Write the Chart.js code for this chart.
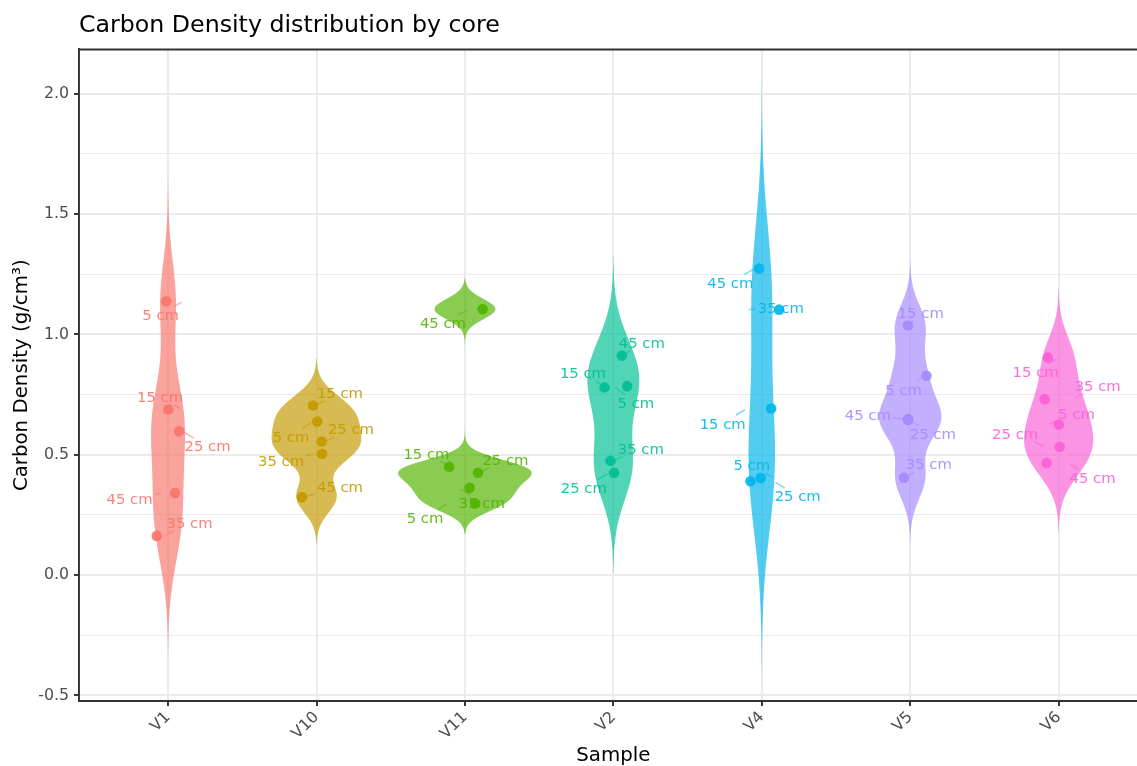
<!DOCTYPE html>
<html><head><meta charset="utf-8">
<script src="https://cdn.jsdelivr.net/npm/chart.js@4.4.0/dist/chart.umd.min.js"></script>
<style>html,body{margin:0;padding:0;overflow:hidden;background:#fff}canvas{display:block}</style>
</head><body>
<canvas id="c" width="1153" height="766"></canvas>
<script>
// ---------------- data ----------------
const samples = ['V1','V10','V11','V2','V4','V5','V6'];
const depths = ['5 cm','15 cm','25 cm','35 cm','45 cm'];
// carbon density (g/cm3) per sample, in depth order 5,15,25,35,45 cm
const V1  = [1.138, 0.688, 0.598, 0.163, 0.341];
const V10 = [0.638, 0.705, 0.555, 0.504, 0.324];
const V11 = [0.298, 0.450, 0.425, 0.363, 1.105];
const V2  = [0.785, 0.780, 0.425, 0.475, 0.912];
const V4  = [0.403, 0.692, 0.390, 1.103, 1.274];
const V5  = [0.828, 1.037, 0.645, 0.404, 0.648];
const V6  = [0.626, 0.904, 0.533, 0.731, 0.466];
const sampleValues = [V1, V10, V11, V2, V4, V5, V6];
const yMajorTicks = [-0.5, 0.0, 0.5, 1.0, 1.5, 2.0];
const yMinorTicks = [-0.25, 0.25, 0.75, 1.25, 1.75];

// ---------------- layout (jitter / label placement) ----------------
const pointJitter = [
  [-0.013, 0.002, 0.074, -0.076, 0.047],
  [0.005, -0.024, 0.035, 0.037, -0.098],
  [0.069, -0.106, 0.088, 0.032, 0.119],
  [0.093, -0.059, 0.005, -0.019, 0.057],
  [-0.007, 0.063, -0.076, 0.117, -0.018],
  [0.109, -0.015, -0.013, -0.042, -0.015],
  [0.002, -0.072, 0.007, -0.094, -0.081]
];
const labelAnchorJitter = [
  [0.101, 0.094, 0.094, -0.027, -0.034],
  [-0.03, -0.01, 0.057, -0.01, -0.084],
  [-0.114, -0.101, 0.094, -0.04, 0.027],
  [0.003, -0.05, -0.03, -0.003, 0.064],
  [0.081, -0.101, 0.081, -0.101, -0.047],
  [0.104, -0.01, -0.01, -0.044, -0.03],
  [-0.074, 0.0, -0.088, 0.101, 0.061]
];
const labelDx = [
  [-0.05, -0.054, 0.266, 0.145, -0.259],
  [-0.172, 0.158, 0.232, -0.239, 0.158],
  [-0.269, -0.259, 0.273, 0.114, -0.148],
  [0.152, -0.205, -0.199, 0.185, 0.192],
  [-0.067, -0.263, 0.242, 0.128, -0.212],
  [-0.044, 0.071, 0.152, 0.125, -0.286],
  [0.121, -0.155, -0.293, 0.263, 0.229]
];
const labelY = [
  [1.081, 0.741, 0.536, 0.217, 0.319],
  [0.574, 0.758, 0.607, 0.475, 0.367],
  [0.240, 0.506, 0.481, 0.301, 1.047],
  [0.716, 0.839, 0.363, 0.525, 0.966],
  [0.457, 0.631, 0.328, 1.111, 1.215],
  [0.772, 1.091, 0.586, 0.462, 0.665],
  [0.669, 0.845, 0.589, 0.787, 0.405]
];

// ---------------- styles ----------------
const colors = ['#F8766D','#C49A00','#53B400','#00C094','#00B6EB','#A58AFF','#FB61D7'];
function rgba(hex, a){const n=parseInt(hex.slice(1),16);return `rgba(${n>>16&255},${n>>8&255},${n&255},${a})`;}
const FONT = 'DejaVu Sans';
Chart.defaults.font.family = FONT;

// ---------------- violin (gaussian KDE, bw.nrd0, cut = 3, scale = area) ----------------
function bwNrd0(x){
  const n=x.length, s=[...x].sort((a,b)=>a-b);
  const mean=x.reduce((a,b)=>a+b,0)/n;
  const sd=Math.sqrt(x.reduce((a,b)=>a+(b-mean)**2,0)/(n-1));
  const q=p=>{const h=(n-1)*p, lo=Math.floor(h);return s[lo]+(h-lo)*(s[Math.min(lo+1,n-1)]-s[lo]);};
  let lo=Math.min(sd,(q(0.75)-q(0.25))/1.34);
  if(!(lo>0)) lo=sd||1;
  return 0.9*lo*Math.pow(n,-0.2);
}
function kde(vals){
  const bw=bwNrd0(vals), n=vals.length, N=512;
  const from=Math.min(...vals)-3*bw, to=Math.max(...vals)+3*bw;
  const ys=[], ds=[];
  for(let j=0;j<N;j++){
    const y=from+(to-from)*j/(N-1);
    let d=0; for(const v of vals){const z=(y-v)/bw; d+=Math.exp(-0.5*z*z);}
    ys.push(y); ds.push(d/(n*bw*Math.sqrt(2*Math.PI)));
  }
  return {ys, ds};
}
const dens = sampleValues.map(kde);
const globalMax = Math.max(...dens.map(d=>Math.max(...d.ds)));
const violinDatasets = dens.map((d,i)=>{
  const pts=[];
  for(let j=0;j<d.ys.length;j++) pts.push({x:i-0.45*d.ds[j]/globalMax, y:d.ys[j]});
  for(let j=d.ys.length-1;j>=0;j--) pts.push({x:i+0.45*d.ds[j]/globalMax, y:d.ys[j]});
  return {data:pts, showLine:true, fill:'shape', tension:0.001, backgroundColor:rgba(colors[i],0.68),
          borderColor:'rgba(0,0,0,0)', borderWidth:0, pointRadius:0, pointHoverRadius:0, order:2};
});
const pointDatasets = sampleValues.map((vals,i)=>({
  data: vals.map((v,k)=>({x:i+pointJitter[i][k], y:v})),
  backgroundColor: rgba(colors[i],0.92), borderWidth:0, pointRadius:5.3, pointHoverRadius:5.3, order:1
}));

const isMajorY = v => yMajorTicks.some(m=>Math.abs(m-v)<1e-9);

const labelPlugin = {
  id:'depthLabels',
  afterDatasetsDraw(chart){
    const {ctx, scales:{x, y}} = chart;
    ctx.save();
    ctx.font = `14.8px "${FONT}"`;
    ctx.textAlign='center'; ctx.textBaseline='alphabetic';
    sampleValues.forEach((vals,i)=>{
      vals.forEach((v,k)=>{
        const lx=x.getPixelForValue(i+labelDx[i][k]), ly=y.getPixelForValue(labelY[i][k]);
        const ax=x.getPixelForValue(i+labelAnchorJitter[i][k]), ay=y.getPixelForValue(v);
        const tw=ctx.measureText(depths[k]).width;
        const hw=tw/2+2, hh=8;
        const dx=ax-lx, dy=ay-ly;
        const t=Math.min(dx!==0?hw/Math.abs(dx):Infinity, dy!==0?hh/Math.abs(dy):Infinity);
        if(t<1){
          const sx=lx+dx*t, sy=ly+dy*t;
          const len=Math.hypot(ax-sx, ay-sy), pad=2;
          if(len>pad+1.5){
            const ex=ax-(ax-sx)/len*pad, ey=ay-(ay-sy)/len*pad;
            ctx.strokeStyle=rgba(colors[i],0.5); ctx.lineWidth=1.6;
            ctx.beginPath(); ctx.moveTo(sx,sy); ctx.lineTo(ex,ey); ctx.stroke();
          }
        }
      });
    });
    sampleValues.forEach((vals,i)=>{
      vals.forEach((v,k)=>{
        const lx=x.getPixelForValue(i+labelDx[i][k]), ly=y.getPixelForValue(labelY[i][k]);
        ctx.fillStyle=rgba(colors[i],0.9);
        ctx.fillText(depths[k], lx, ly+5.3);
      });
    });
    ctx.restore();
  },
  afterDraw(chart){
    const {ctx, chartArea:a} = chart;
    ctx.save(); ctx.strokeStyle='#333333'; ctx.lineWidth=1.9;
    ctx.beginPath(); ctx.moveTo(a.left, a.top); ctx.lineTo(a.right, a.top); ctx.lineTo(a.right,a.bottom); ctx.stroke();
    ctx.restore();
  }
};

new Chart(document.getElementById('c'), {
  type:'scatter',
  data:{datasets:[...pointDatasets, ...violinDatasets]},
  plugins:[labelPlugin],
  options:{
    responsive:false, animation:false, devicePixelRatio:1,
    layout:{padding:0},
    events:[],
    plugins:{
      legend:{display:false}, tooltip:{enabled:false},
      title:{display:true, text:'Carbon Density distribution by core', align:'start', fullSize:false,
             color:'#000', font:{size:23.7, weight:'normal', lineHeight:1.2}, padding:{top:12, bottom:9}}
    },
    scales:{
      x:{type:'linear', min:-0.6, max:6.6,
         afterBuildTicks:s=>{s.ticks=samples.map((_,i)=>({value:i}));},
         afterFit:s=>{s.height=65;},
         ticks:{callback:v=>samples[v], minRotation:45, maxRotation:45, autoSkip:false,
                color:'#4D4D4D', font:{size:15.8}, padding:2},
         grid:{color:'#EBEBEB', lineWidth:1.93, tickColor:'#333333', tickWidth:1.93, tickLength:5},
         border:{color:'#333333', width:1.93},
         title:{display:true, text:'Sample', color:'#000', font:{size:19.8, lineHeight:1}, padding:{top:0,bottom:0}}
      },
      y:{type:'linear', min:-0.523, max:2.184,
         afterBuildTicks:s=>{s.ticks=[...yMajorTicks, ...yMinorTicks].sort((a,b)=>a-b).map(v=>({value:v}));},
         afterFit:s=>{s.width=79;},
         ticks:{callback:v=>isMajorY(v)?v.toFixed(1):'', color:'#4D4D4D', font:{size:15.8}, padding:5, autoSkip:false},
         grid:{color:'#EBEBEB',
               lineWidth:c=>isMajorY(c.tick.value)?1.93:0.96,
               tickColor:c=>isMajorY(c.tick.value)?'#333333':'rgba(0,0,0,0)',
               tickWidth:1.93, tickLength:5},
         border:{color:'#333333', width:1.93},
         title:{display:true, text:'Carbon Density (g/cm³)', color:'#000', font:{size:19.8, lineHeight:1.2}, padding:{top:10,bottom:0}}
      }
    }
  }
});
</script>
</body></html>
